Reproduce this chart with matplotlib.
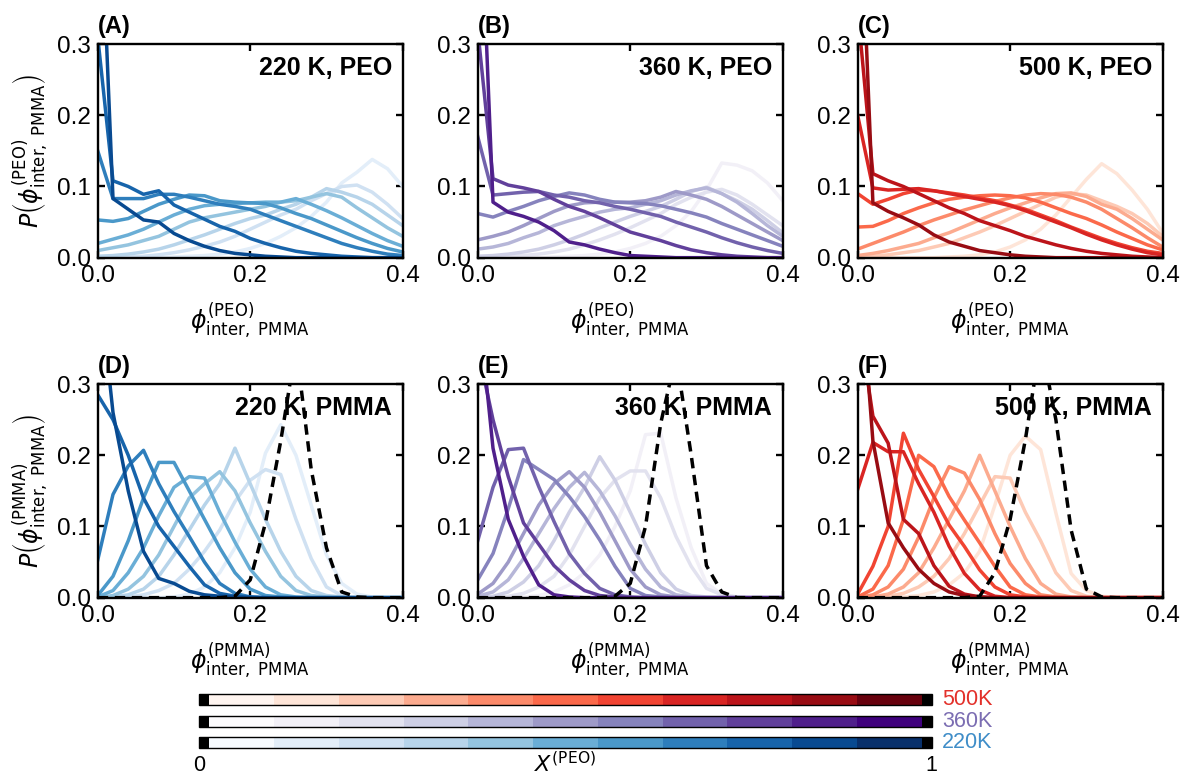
import numpy as np
import matplotlib
matplotlib.use("Agg")
import matplotlib.pyplot as plt
import matplotlib as mpl
from matplotlib.colors import ListedColormap, BoundaryNorm

plt.rcParams['font.family'] = ['Liberation Sans', 'DejaVu Sans']
plt.rcParams['mathtext.fontset'] = 'dejavusans'

# bin centres of phi_inter
phi = [0.00, 0.02, 0.04, 0.06, 0.08, 0.10, 0.12, 0.14, 0.16, 0.18, 0.20,
       0.22, 0.24, 0.26, 0.28, 0.30, 0.32, 0.34, 0.36, 0.38, 0.40]
# PEO fraction of each curve
x_peo = [0.1, 0.2, 0.3, 0.4, 0.5, 0.6, 0.7, 0.8, 0.9]

# P(phi^(PEO)_inter,PMMA), one list per x_peo
peo_220 = [
    [0, 0, 0, 0, 0, 0.001, 0.002, 0.003, 0.005, 0.008, 0.013, 0.020, 0.030, 0.042, 0.058, 0.078, 0.105, 0.120, 0.138, 0.125, 0.100],
    [0, 0.001, 0.001, 0.002, 0.004, 0.007, 0.011, 0.016, 0.022, 0.030, 0.040, 0.050, 0.060, 0.068, 0.080, 0.090, 0.100, 0.102, 0.092, 0.075, 0.055],
    [0.002, 0.003, 0.005, 0.008, 0.012, 0.018, 0.025, 0.032, 0.040, 0.048, 0.055, 0.060, 0.068, 0.075, 0.085, 0.097, 0.092, 0.085, 0.075, 0.060, 0.045],
    [0.010, 0.014, 0.018, 0.024, 0.030, 0.040, 0.050, 0.056, 0.060, 0.064, 0.068, 0.072, 0.078, 0.080, 0.085, 0.090, 0.085, 0.070, 0.056, 0.042, 0.030],
    [0.020, 0.026, 0.032, 0.040, 0.050, 0.060, 0.068, 0.073, 0.075, 0.076, 0.077, 0.078, 0.078, 0.083, 0.075, 0.066, 0.056, 0.045, 0.034, 0.024, 0.016],
    [0.053, 0.051, 0.055, 0.065, 0.075, 0.082, 0.088, 0.087, 0.080, 0.078, 0.077, 0.076, 0.070, 0.062, 0.055, 0.046, 0.037, 0.028, 0.020, 0.013, 0.008],
    [0.150, 0.083, 0.083, 0.083, 0.089, 0.089, 0.085, 0.080, 0.075, 0.072, 0.068, 0.060, 0.052, 0.044, 0.036, 0.028, 0.020, 0.014, 0.009, 0.005, 0.003],
    [0.310, 0.108, 0.100, 0.089, 0.094, 0.074, 0.064, 0.054, 0.044, 0.037, 0.027, 0.020, 0.014, 0.009, 0.006, 0.004, 0.002, 0.001, 0, 0, 0],
    [0.600, 0.083, 0.068, 0.053, 0.050, 0.034, 0.024, 0.016, 0.010, 0.006, 0.004, 0.002, 0.001, 0, 0, 0, 0, 0, 0, 0, 0],
]
peo_360 = [
    [0, 0, 0, 0, 0, 0.001, 0.002, 0.003, 0.005, 0.008, 0.013, 0.020, 0.030, 0.045, 0.065, 0.095, 0.133, 0.130, 0.122, 0.105, 0.080],
    [0, 0.001, 0.002, 0.003, 0.005, 0.008, 0.012, 0.018, 0.025, 0.033, 0.042, 0.052, 0.062, 0.075, 0.085, 0.092, 0.096, 0.088, 0.075, 0.060, 0.045],
    [0.002, 0.003, 0.005, 0.008, 0.012, 0.018, 0.025, 0.033, 0.042, 0.050, 0.058, 0.065, 0.072, 0.082, 0.093, 0.099, 0.090, 0.080, 0.068, 0.052, 0.035],
    [0.012, 0.015, 0.020, 0.028, 0.035, 0.045, 0.052, 0.058, 0.064, 0.068, 0.070, 0.075, 0.080, 0.088, 0.094, 0.098, 0.090, 0.078, 0.062, 0.045, 0.030],
    [0.025, 0.030, 0.036, 0.045, 0.055, 0.065, 0.073, 0.077, 0.078, 0.078, 0.078, 0.080, 0.085, 0.093, 0.088, 0.082, 0.072, 0.060, 0.048, 0.036, 0.024],
    [0.062, 0.057, 0.065, 0.072, 0.080, 0.086, 0.091, 0.088, 0.082, 0.078, 0.077, 0.076, 0.073, 0.068, 0.063, 0.057, 0.048, 0.040, 0.032, 0.024, 0.016],
    [0.170, 0.088, 0.090, 0.092, 0.093, 0.088, 0.085, 0.080, 0.077, 0.072, 0.068, 0.063, 0.058, 0.050, 0.043, 0.036, 0.028, 0.021, 0.015, 0.010, 0.006],
    [0.320, 0.111, 0.102, 0.098, 0.093, 0.082, 0.072, 0.065, 0.056, 0.046, 0.036, 0.030, 0.024, 0.017, 0.011, 0.007, 0.004, 0.002, 0.001, 0, 0],
    [0.600, 0.078, 0.064, 0.058, 0.050, 0.038, 0.022, 0.018, 0.012, 0.007, 0.003, 0.002, 0.001, 0, 0, 0, 0, 0, 0, 0, 0],
]
peo_500 = [
    [0, 0, 0, 0, 0, 0, 0.001, 0.002, 0.004, 0.008, 0.015, 0.025, 0.040, 0.060, 0.085, 0.110, 0.132, 0.118, 0.095, 0.068, 0.035],
    [0.001, 0.002, 0.004, 0.007, 0.010, 0.015, 0.020, 0.028, 0.036, 0.045, 0.055, 0.065, 0.075, 0.085, 0.090, 0.088, 0.080, 0.072, 0.062, 0.048, 0.030],
    [0.003, 0.006, 0.010, 0.015, 0.020, 0.028, 0.035, 0.044, 0.053, 0.062, 0.070, 0.077, 0.084, 0.090, 0.091, 0.086, 0.075, 0.068, 0.055, 0.040, 0.025],
    [0.012, 0.020, 0.028, 0.036, 0.045, 0.053, 0.060, 0.067, 0.073, 0.079, 0.084, 0.088, 0.090, 0.089, 0.085, 0.078, 0.068, 0.055, 0.042, 0.028, 0.015],
    [0.043, 0.044, 0.052, 0.062, 0.070, 0.077, 0.082, 0.085, 0.087, 0.088, 0.087, 0.084, 0.078, 0.070, 0.062, 0.055, 0.046, 0.036, 0.027, 0.018, 0.011],
    [0.090, 0.075, 0.082, 0.090, 0.095, 0.094, 0.091, 0.088, 0.084, 0.080, 0.074, 0.068, 0.060, 0.052, 0.043, 0.035, 0.027, 0.020, 0.014, 0.009, 0.006],
    [0.200, 0.098, 0.095, 0.096, 0.097, 0.094, 0.090, 0.086, 0.082, 0.078, 0.073, 0.066, 0.058, 0.050, 0.042, 0.033, 0.025, 0.018, 0.012, 0.007, 0.004],
    [0.350, 0.118, 0.108, 0.100, 0.090, 0.080, 0.070, 0.062, 0.052, 0.045, 0.038, 0.030, 0.024, 0.018, 0.013, 0.009, 0.006, 0.004, 0.002, 0.001, 0],
    [0.600, 0.077, 0.065, 0.056, 0.046, 0.032, 0.022, 0.016, 0.010, 0.007, 0.004, 0.002, 0.001, 0, 0, 0, 0, 0, 0, 0, 0],
]

# P(phi^(PMMA)_inter,PMMA)
pmma_220 = [
    [0, 0, 0, 0, 0, 0.001, 0.005, 0.015, 0.035, 0.070, 0.120, 0.203, 0.243, 0.200, 0.130, 0.060, 0.020, 0.005, 0.001, 0, 0],
    [0, 0, 0.001, 0.004, 0.010, 0.020, 0.040, 0.065, 0.095, 0.135, 0.165, 0.180, 0.173, 0.110, 0.055, 0.015, 0.003, 0, 0, 0, 0],
    [0, 0.001, 0.004, 0.012, 0.030, 0.060, 0.095, 0.130, 0.160, 0.210, 0.160, 0.110, 0.065, 0.030, 0.010, 0.003, 0.001, 0, 0, 0, 0],
    [0, 0.003, 0.012, 0.030, 0.060, 0.100, 0.140, 0.160, 0.177, 0.150, 0.105, 0.065, 0.030, 0.010, 0.003, 0.001, 0, 0, 0, 0, 0],
    [0.001, 0.010, 0.035, 0.070, 0.115, 0.155, 0.170, 0.168, 0.120, 0.078, 0.040, 0.015, 0.004, 0.001, 0, 0, 0, 0, 0, 0, 0],
    [0.003, 0.030, 0.080, 0.140, 0.190, 0.190, 0.150, 0.110, 0.070, 0.035, 0.012, 0.003, 0.001, 0, 0, 0, 0, 0, 0, 0, 0],
    [0.053, 0.145, 0.185, 0.207, 0.160, 0.121, 0.086, 0.050, 0.020, 0.006, 0.001, 0, 0, 0, 0, 0, 0, 0, 0, 0, 0],
    [0.285, 0.250, 0.200, 0.140, 0.100, 0.072, 0.044, 0.018, 0.006, 0.002, 0.001, 0, 0, 0, 0, 0, 0, 0, 0, 0, 0],
    [0.460, 0.260, 0.150, 0.065, 0.027, 0.020, 0.009, 0.004, 0.002, 0.001, 0, 0, 0, 0, 0, 0, 0, 0, 0, 0, 0],
]
pmma_360 = [
    [0, 0, 0, 0.001, 0.003, 0.008, 0.018, 0.035, 0.060, 0.100, 0.150, 0.229, 0.231, 0.140, 0.070, 0.020, 0.005, 0.001, 0, 0, 0],
    [0, 0, 0.002, 0.006, 0.015, 0.030, 0.060, 0.100, 0.140, 0.165, 0.178, 0.178, 0.140, 0.086, 0.044, 0.013, 0.004, 0.001, 0, 0, 0],
    [0, 0.002, 0.008, 0.022, 0.045, 0.080, 0.120, 0.155, 0.198, 0.165, 0.120, 0.075, 0.035, 0.012, 0.003, 0.001, 0, 0, 0, 0, 0],
    [0.002, 0.008, 0.025, 0.055, 0.090, 0.125, 0.155, 0.176, 0.150, 0.115, 0.075, 0.040, 0.015, 0.004, 0.001, 0, 0, 0, 0, 0, 0],
    [0.005, 0.020, 0.050, 0.090, 0.130, 0.160, 0.177, 0.155, 0.120, 0.080, 0.040, 0.015, 0.004, 0.001, 0, 0, 0, 0, 0, 0, 0],
    [0.025, 0.062, 0.125, 0.194, 0.180, 0.166, 0.142, 0.114, 0.081, 0.044, 0.013, 0.003, 0.001, 0, 0, 0, 0, 0, 0, 0, 0],
    [0.080, 0.155, 0.208, 0.210, 0.156, 0.107, 0.062, 0.034, 0.013, 0.004, 0.001, 0, 0, 0, 0, 0, 0, 0, 0, 0, 0],
    [0.350, 0.250, 0.170, 0.105, 0.075, 0.045, 0.025, 0.010, 0.003, 0.001, 0, 0, 0, 0, 0, 0, 0, 0, 0, 0, 0],
    [0.420, 0.210, 0.110, 0.058, 0.018, 0.004, 0.001, 0, 0, 0, 0, 0, 0, 0, 0, 0, 0, 0, 0, 0, 0],
]
pmma_500 = [
    [0, 0, 0, 0.001, 0.003, 0.008, 0.018, 0.035, 0.065, 0.130, 0.200, 0.227, 0.208, 0.119, 0.034, 0.010, 0.002, 0, 0, 0, 0],
    [0, 0, 0.002, 0.006, 0.015, 0.030, 0.055, 0.090, 0.130, 0.170, 0.168, 0.120, 0.080, 0.035, 0.010, 0.002, 0, 0, 0, 0, 0],
    [0, 0.001, 0.005, 0.015, 0.035, 0.070, 0.110, 0.150, 0.200, 0.150, 0.100, 0.055, 0.020, 0.005, 0.001, 0, 0, 0, 0, 0, 0],
    [0, 0.004, 0.015, 0.040, 0.085, 0.140, 0.184, 0.175, 0.138, 0.090, 0.048, 0.020, 0.004, 0.001, 0, 0, 0, 0, 0, 0, 0],
    [0.001, 0.012, 0.045, 0.110, 0.200, 0.184, 0.142, 0.109, 0.077, 0.044, 0.015, 0.004, 0.001, 0, 0, 0, 0, 0, 0, 0, 0],
    [0.005, 0.044, 0.100, 0.231, 0.180, 0.142, 0.102, 0.072, 0.039, 0.015, 0.004, 0.001, 0, 0, 0, 0, 0, 0, 0, 0, 0],
    [0.152, 0.218, 0.205, 0.205, 0.160, 0.120, 0.072, 0.034, 0.011, 0.002, 0, 0, 0, 0, 0, 0, 0, 0, 0, 0, 0],
    [0.400, 0.255, 0.217, 0.110, 0.090, 0.045, 0.016, 0.005, 0.001, 0, 0, 0, 0, 0, 0, 0, 0, 0, 0, 0, 0],
    [0.500, 0.220, 0.105, 0.070, 0.040, 0.020, 0.008, 0.003, 0.001, 0, 0, 0, 0, 0, 0, 0, 0, 0, 0, 0, 0],
]
# dashed black reference curves for the PMMA panels
ref_220 = [0, 0, 0, 0, 0, 0, 0, 0, 0, 0.002, 0.025, 0.105, 0.220, 0.353, 0.180, 0.070, 0.008, 0.001, 0, 0, 0]
ref_360 = [0, 0, 0, 0, 0, 0, 0, 0, 0, 0.002, 0.020, 0.100, 0.245, 0.340, 0.200, 0.045, 0.008, 0, 0, 0, 0]
ref_500 = [0, 0, 0, 0, 0, 0, 0, 0, 0.002, 0.035, 0.110, 0.222, 0.360, 0.250, 0.095, 0.012, 0.001, 0, 0, 0, 0]

temps = ['220 K', '360 K', '500 K']
cmaps = ['Blues', 'Purples', 'Reds']
panel_tags = ['(A)', '(B)', '(C)', '(D)', '(E)', '(F)']
cbar_labels = ['500K', '360K', '220K']
cbar_label_colors = ['#e3302a', '#7b6db2', '#3f8dc8']

fig = plt.figure(figsize=(11.82, 7.78), dpi=100)

lefts = [0.0827, 0.4042, 0.7256]
bottoms = [0.6688, 0.2318]
w, h = 0.258, 0.2745

rows = [
    (peo_220, peo_360, peo_500),
    (pmma_220, pmma_360, pmma_500),
]
refs = [ref_220, ref_360, ref_500]
species = ['PEO', 'PMMA']

for r in range(2):
    for c in range(3):
        ax = fig.add_axes([lefts[c], bottoms[r], w, h])
        cmap = plt.get_cmap(cmaps[c])
        for xp, y in zip(x_peo, rows[r][c]):
            ax.plot(phi, y, color=cmap(xp), lw=2.5, zorder=2)
        if r == 1:
            ax.plot(phi, refs[c], color='k', ls=(0, (3.0, 1.9)), lw=2.5, zorder=3)
        ax.set_xlim(0, 0.4)
        ax.set_ylim(0, 0.3)
        ax.set_xticks([0, 0.2, 0.4])
        ax.set_yticks([0, 0.1, 0.2, 0.3])
        ax.set_xticklabels(['0.0', '0.2', '0.4'])
        ax.set_yticklabels(['0.0', '0.1', '0.2', '0.3'])
        ax.tick_params(direction='in', top=True, right=True, length=5, width=1.7,
                       labelsize=17.5, pad=5)
        for s in ax.spines.values():
            s.set_linewidth(1.7)
        sp = species[r]
        ax.set_xlabel(r'$\phi^{\mathrm{(%s)}}_{\mathrm{inter,\ PMMA}}$' % sp,
                      fontsize=17, labelpad=10)
        if c == 0:
            ax.set_ylabel(r'$P\left(\phi^{\mathrm{(%s)}}_{\mathrm{inter,\ PMMA}}\right)$' % sp,
                          fontsize=17, labelpad=5)
        ax.text(0.965, 0.89, '%s, %s' % (temps[c], sp), transform=ax.transAxes,
                ha='right', va='center', fontsize=18, fontweight='bold', zorder=1)
        ax.text(0.0, 1.03, panel_tags[r * 3 + c], transform=ax.transAxes,
                ha='left', va='bottom', fontsize=17, fontweight='bold')

# colour bars for X^(PEO)
cb_left, cb_width, cb_h = 0.1686, 0.6196, 0.0140
cb_bottoms = [0.0938, 0.0652, 0.0382]
for cm_name, b, lab, lc in zip(['Reds', 'Purples', 'Blues'], cb_bottoms, cbar_labels, cbar_label_colors):
    cax = fig.add_axes([cb_left, b, cb_width, cb_h])
    base = plt.get_cmap(cm_name)
    lcm = ListedColormap([base(v) for v in np.linspace(0, 1, 11)])
    lcm.set_over('k')
    lcm.set_under('k')
    norm = BoundaryNorm(np.linspace(0, 1, 12), 11)
    cb = mpl.colorbar.ColorbarBase(cax, cmap=lcm, norm=norm, orientation='horizontal',
                                   extend='both', extendrect=True, extendfrac=0.014)
    cb.set_ticks([])
    cb.minorticks_off()
    cax.tick_params(which='both', length=0)
    cb.outline.set_linewidth(1.0)
    fig.text(cb_left + cb_width + 0.009, b + cb_h / 2, lab, color=lc,
             fontsize=15.5, ha='left', va='center')

fig.text(cb_left, 0.003, '0', fontsize=15.5, ha='center', va='bottom')
fig.text(cb_left + cb_width, 0.003, '1', fontsize=15.5, ha='center', va='bottom')
fig.text(cb_left + cb_width / 2, 0.001, r'$X^{\mathrm{(PEO)}}$', fontsize=16,
         ha='center', va='bottom')

fig.savefig('out.png', dpi=100)
